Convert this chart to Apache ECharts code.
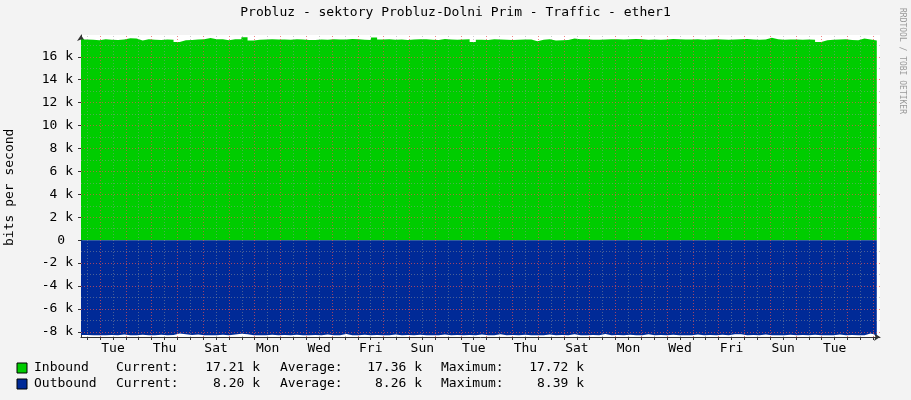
<!DOCTYPE html>
<html><head><meta charset="utf-8">
<script src="https://cdn.jsdelivr.net/npm/echarts@6/dist/echarts.min.js"></script>
<style>html,body{margin:0;padding:0;background:#f3f3f3}#c{width:911px;height:400px}</style>
</head><body><div id="c"></div>
<script>
var spanHours = 744;
var inbound = [17500,17480,17450,17520,17480,17470,17500,17620,17600,17430,17520,17480,17470,17500,17490,17300,17450,17460,17500,17520,17640,17530,17520,17440,17540,17520,17700,17420,17480,17500,17530,17510,17500,17490,17520,17510,17470,17460,17500,17480,17520,17500,17510,17550,17530,17480,17470,17690,17500,17520,17480,17500,17470,17510,17530,17520,17480,17470,17560,17500,17490,17510,17520,17300,17490,17460,17520,17500,17480,17470,17490,17500,17510,17350,17480,17530,17430,17440,17460,17600,17540,17520,17480,17490,17500,17520,17540,17510,17530,17560,17520,17490,17500,17480,17510,17560,17520,17500,17510,17530,17480,17500,17520,17500,17490,17510,17530,17560,17500,17490,17510,17650,17540,17480,17500,17510,17480,17500,17490,17300,17450,17480,17500,17520,17460,17440,17600,17500,17420,17450];
var outbound = [-8280,-8300,-8290,-8300,-8280,-8300,-8230,-8300,-8290,-8250,-8300,-8290,-8260,-8300,-8270,-8150,-8200,-8280,-8230,-8300,-8290,-8300,-8250,-8300,-8240,-8170,-8220,-8300,-8290,-8300,-8250,-8300,-8280,-8300,-8250,-8300,-8290,-8280,-8300,-8230,-8300,-8290,-8180,-8290,-8300,-8250,-8300,-8280,-8300,-8290,-8240,-8300,-8280,-8300,-8260,-8300,-8290,-8300,-8230,-8300,-8280,-8300,-8270,-8300,-8240,-8300,-8290,-8200,-8300,-8280,-8300,-8250,-8300,-8290,-8300,-8230,-8300,-8280,-8300,-8200,-8290,-8300,-8270,-8300,-8190,-8300,-8280,-8300,-8250,-8300,-8290,-8220,-8300,-8280,-8300,-8260,-8300,-8290,-8300,-8240,-8300,-8280,-8300,-8250,-8300,-8200,-8200,-8300,-8280,-8300,-8230,-8300,-8290,-8300,-8250,-8300,-8280,-8300,-8260,-8300,-8290,-8300,-8240,-8300,-8280,-8300,-8300,-8150,-8280,-8300];
var dayLabels = ['Tue','Thu','Sat','Mon','Wed','Fri','Sun','Tue','Thu','Sat','Mon','Wed','Fri','Sun','Tue'];
var yTicks = [-8000,-6000,-4000,-2000,0,2000,4000,6000,8000,10000,12000,14000,16000];
var legendRows = [
  ['Inbound','17.21 k','17.36 k','17.72 k'],
  ['Outbound','8.20 k','8.26 k','8.39 k']
];
var title = 'Probluz - sektory Probluz-Dolni Prim - Traffic - ether1';

var n = inbound.length, step = 741/(n-1);
var inData = inbound.map(function(v,i){return [i*step,v];});
var outData = outbound.map(function(v,i){return [i*step,v];});
var labelPos = dayLabels.map(function(d,i){return 29.8+48*i;});
var majorV=[], minorV=[];
for (var h=17.7; h<spanHours; h+=24) majorV.push(h);
for (var h2=5.7; h2<spanHours; h2+=24) minorV.push(h2);
var majorH=[], minorH=[];
for (var y=-8000; y<=16000; y+=2000) if (y!==0) majorH.push(y);
for (var y2=-7000; y2<=17000; y2+=2000) minorH.push(y2);
function vl(xs,c){return xs.map(function(x){return {xAxis:x,lineStyle:{color:c,type:[1,2],width:1}};});}
function hl(ys,c){return ys.map(function(y){return {yAxis:y,lineStyle:{color:c,type:[1,2],width:1}};});}
var mono='DejaVu Sans Mono';
var chart = echarts.init(document.getElementById('c'));
var g=[{type:'text',left:'center',top:6,style:{text:title,font:'13px '+mono,fill:'#000'}},
 {type:'text',x:906,y:8,rotation:-Math.PI/2,style:{text:'RRDTOOL / TOBI OETIKER',font:'8px '+mono,fill:'#999'}},
 {type:'text',x:3,y:246,rotation:Math.PI/2,style:{text:'bits per second',font:'13px '+mono,fill:'#000'}}];
var colors=['#00cc00','#002a97'];
function t(x,y,s,align){return {type:'text',x:x,y:y,style:{text:s,font:'13px '+mono,fill:'#000',align:align||'left',verticalAlign:'middle'}};}
legendRows.forEach(function(r,i){
  var yy=368+i*16;
  g.push({type:'rect',shape:{x:17,y:yy-5,width:10,height:10},style:{fill:colors[i],stroke:'#000',lineWidth:1}});
  g.push(t(34,yy,r[0]));
  g.push(t(116,yy,'Current:'));
  g.push(t(260,yy,r[1],'right'));
  g.push(t(280,yy,'Average:'));
  g.push(t(422,yy,r[2],'right'));
  g.push(t(441,yy,'Maximum:'));
  g.push(t(584,yy,r[3],'right'));
});
chart.setOption({
  backgroundColor:'#f3f3f3',animation:false,
  grid:{left:81,right:31,top:35,bottom:63,show:true,backgroundColor:'#fff',borderWidth:0},
  xAxis:{type:'value',min:0,max:spanHours,
    axisLine:{onZero:false,lineStyle:{color:'#333'},symbol:['none','arrow'],symbolSize:[6,6]},
    axisTick:{customValues:minorV.concat(majorV),length:3,lineStyle:{color:'#333'}},
    axisLabel:{customValues:labelPos,formatter:function(v){var i=Math.round((v-29.8)/48);return dayLabels[i]||'';},fontFamily:mono,fontSize:13,color:'#000',margin:5},
    splitLine:{show:false}},
  yAxis:{type:'value',min:-8450,max:17900,
    axisLine:{show:true,onZero:false,lineStyle:{color:'#333'},symbol:['none','arrow'],symbolSize:[6,6]},
    axisTick:{customValues:yTicks,length:3,lineStyle:{color:'#333'}},
    axisLabel:{customValues:yTicks,formatter:function(v){return v===0?'0 ':(v/1000)+' k';},fontFamily:mono,fontSize:13,color:'#000',margin:8},
    splitLine:{show:false}},
  graphic:g,
  series:[
   {type:'line',data:inData,step:'end',symbol:'none',lineStyle:{width:0},areaStyle:{color:'#00cc00',origin:0,opacity:1},z:2},
   {type:'line',data:outData,step:'end',symbol:'none',lineStyle:{width:0},areaStyle:{color:'#002a97',origin:0,opacity:1},z:2},
   {type:'line',data:[],z:5,markLine:{silent:true,symbol:'none',label:{show:false},
     data:vl(minorV,'rgba(150,150,150,0.5)').concat(hl(minorH,'rgba(150,150,150,0.5)')).concat(vl(majorV,'rgba(230,80,80,0.7)')).concat(hl(majorH,'rgba(230,80,80,0.7)'))}}
  ]
});
</script></body></html>
